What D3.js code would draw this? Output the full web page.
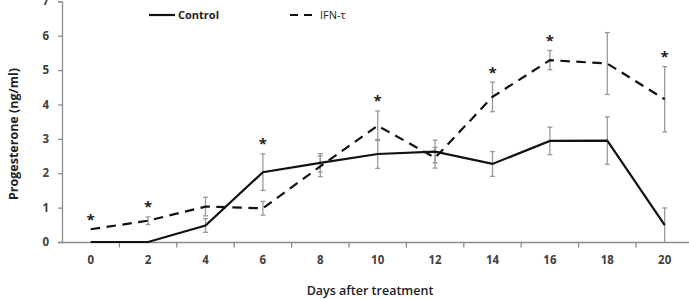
<!DOCTYPE html>
<html><head><meta charset="utf-8">
<script src="https://cdn.jsdelivr.net/npm/d3@7"></script>
<style>body{margin:0;background:#fff}svg{display:block}text{font-family:"Open Sans","Noto Sans",sans-serif}</style>
</head><body><svg id="c" width="689" height="299"></svg>
<script>
const days = [0,2,4,6,8,10,12,14,16,18,20];
const controlMean = [0,0,0.48,2.03,2.3,2.56,2.63,2.27,2.94,2.95,0.49];
const controlErr  = [0,0,0.2,0.53,0.27,0.42,0.33,0.36,0.4,0.69,0.5];
const ifnMean = [0.37,0.62,1.03,0.98,2.2,3.38,2.45,4.22,5.29,5.19,4.15];
const ifnErr  = [0,0.11,0.27,0.2,0.3,0.43,0.3,0.43,0.28,0.9,0.95];
const sigDays = [0,2,6,10,14,16,20];
const yTicks = [0,1,2,3,4,5,6,7];
const seriesNames = ["Control","IFN-\u03c4"];

const svg = d3.select("#c");
const x = d3.scaleBand().domain(days).range([62, 693.4]).padding(0);
const y = d3.scaleLinear().domain([0,7]).range([242, 1.3]);
const cx = d => x(d) + x.bandwidth()/2;

// axes
const axisCol = "#8c8c8c";
const gy = svg.append("g").attr("transform","translate(62,0)")
  .call(d3.axisLeft(y).tickValues(yTicks).tickSize(4).tickPadding(9).tickFormat(d3.format("d")));
const gx = svg.append("g").attr("transform","translate(0,242)")
  .call(d3.axisBottom(x).tickSize(0).tickPadding(14));
[gy,gx].forEach(g=>{
  g.select(".domain").attr("stroke",axisCol).attr("stroke-width",1.3);
  g.selectAll(".tick line").attr("stroke",axisCol).attr("stroke-width",1.3);
  g.selectAll("text").attr("fill","#404040").attr("font-size",11.5).attr("font-weight","bold");
});
gx.selectAll(".tick text").attr("dy","0.71em");
// x ticks between categories
svg.append("g").selectAll("line").data(days.slice(1)).join("line")
  .attr("x1",d=>x(d)).attr("x2",d=>x(d)).attr("y1",242).attr("y2",247.5)
  .attr("stroke",axisCol).attr("stroke-width",1.3);

// error bars
function errBars(mean, err){
  const g = svg.append("g").attr("stroke","#9a9a9a").attr("stroke-width",1.3);
  days.forEach((d,i)=>{
    if(!err[i]) return;
    const top = y(mean[i]+err[i]), bot = y(Math.max(0, mean[i]-err[i]));
    g.append("line").attr("x1",cx(d)).attr("x2",cx(d)).attr("y1",top).attr("y2",bot);
    g.append("line").attr("x1",cx(d)-2.5).attr("x2",cx(d)+2.5).attr("y1",top).attr("y2",top);
    if(mean[i]-err[i]>0) g.append("line").attr("x1",cx(d)-2.5).attr("x2",cx(d)+2.5).attr("y1",bot).attr("y2",bot);
  });
}
errBars(controlMean, controlErr);
errBars(ifnMean, ifnErr);

const line = d3.line().x((v,i)=>cx(days[i])).y(v=>y(v));
svg.append("path").attr("d",line(controlMean)).attr("fill","none").attr("stroke","#111").attr("stroke-width",2.2);
svg.append("path").attr("d",line(ifnMean)).attr("fill","none").attr("stroke","#111").attr("stroke-width",2.2).attr("stroke-dasharray","9.5,6.5");

// significance stars
svg.append("g").selectAll("text").data(sigDays).join("text")
  .attr("x",d=>cx(d)).attr("text-anchor","middle")
  .attr("y",d=>{const i=days.indexOf(d);return y(Math.max(controlMean[i]+controlErr[i], ifnMean[i]+ifnErr[i]))-5;})
  .attr("font-size",15).attr("font-weight","bold").attr("fill","#222").attr("dy","0.7em")
  .attr("transform","translate(0,-10)").text("*");

// legend
svg.append("line").attr("x1",149).attr("x2",175).attr("y1",15).attr("y2",15).attr("stroke","#111").attr("stroke-width",2.2);
svg.append("text").attr("x",178).attr("y",19).attr("font-size",11).attr("font-weight","bold").attr("fill","#222").text(seriesNames[0]);
svg.append("line").attr("x1",290).attr("x2",313).attr("y1",15).attr("y2",15).attr("stroke","#111").attr("stroke-width",2.2).attr("stroke-dasharray","8,6");
svg.append("text").attr("x",320).attr("y",19).attr("font-size",11).attr("fill","#222").text(seriesNames[1]);

// axis titles
svg.append("text").attr("transform","translate(18,134) rotate(-90)").attr("text-anchor","middle")
  .attr("font-size",12.5).attr("font-weight","bold").attr("fill","#222").text("Progesterone (ng/ml)");
svg.append("text").attr("x",370).attr("y",295).attr("text-anchor","middle")
  .attr("font-size",12.5).attr("font-weight","600").attr("fill","#222").text("Days after treatment");
</script></body></html>
